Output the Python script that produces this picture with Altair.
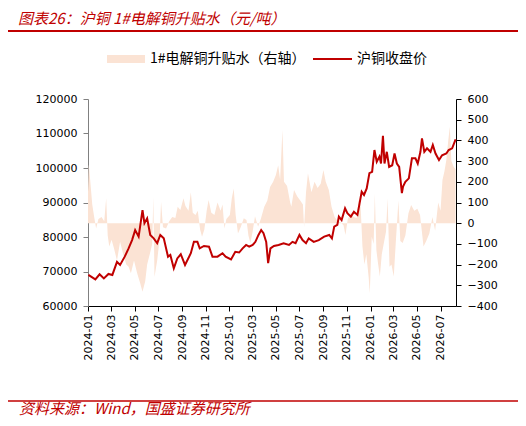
import altair as alt
import pandas as pd

# ---- Data ----
price_dates = [
    "2024-01-02", "2024-01-20", "2024-01-31", "2024-02-11", "2024-02-23", "2024-03-04",
    "2024-03-16", "2024-03-24", "2024-04-05", "2024-04-15", "2024-04-24", "2024-05-02",
    "2024-05-11", "2024-05-21", "2024-05-26", "2024-06-02", "2024-06-10", "2024-06-19",
    "2024-06-28", "2024-07-06", "2024-07-15", "2024-07-26", "2024-08-01", "2024-08-10",
    "2024-08-19", "2024-08-28", "2024-09-08", "2024-09-23", "2024-10-01", "2024-10-10",
    "2024-10-16", "2024-10-27", "2024-11-09", "2024-11-18", "2024-12-01", "2024-12-14",
    "2024-12-22", "2025-01-05", "2025-01-16", "2025-01-26", "2025-02-04", "2025-02-13",
    "2025-02-21", "2025-03-02", "2025-03-09", "2025-03-17", "2025-03-24", "2025-03-30",
    "2025-04-06", "2025-04-11", "2025-04-17", "2025-04-26", "2025-05-08", "2025-05-21",
    "2025-06-04", "2025-06-13", "2025-06-21", "2025-07-01", "2025-07-09", "2025-07-18",
    "2025-07-25", "2025-08-07", "2025-08-20", "2025-09-03", "2025-09-16", "2025-09-23",
    "2025-09-29", "2025-10-07", "2025-10-11", "2025-10-18", "2025-10-27", "2025-11-02",
    "2025-11-11", "2025-11-19", "2025-11-28", "2025-12-02", "2025-12-09", "2025-12-15",
    "2025-12-22", "2025-12-29", "2026-01-05", "2026-01-11", "2026-01-17", "2026-01-24",
    "2026-01-28", "2026-02-02", "2026-02-06", "2026-02-12", "2026-02-18", "2026-02-26",
    "2026-03-04", "2026-03-10", "2026-03-16", "2026-03-23", "2026-03-26", "2026-04-01",
    "2026-04-10", "2026-04-18", "2026-04-27", "2026-05-03", "2026-05-10", "2026-05-14",
    "2026-05-20", "2026-05-27", "2026-06-05", "2026-06-11", "2026-06-18", "2026-06-27",
    "2026-07-05", "2026-07-16", "2026-07-22", "2026-07-31", "2026-08-09",
]
price_values = [
    69000, 67700, 69200, 68000, 69300, 69000,
    72800, 71900, 74300, 76700, 79100, 82000,
    80100, 87800, 84000, 85400, 80600, 79600,
    78200, 80600, 79600, 74300, 74800, 70900,
    73800, 75000, 71900, 75300, 78600, 78600,
    76700, 77400, 77200, 74300, 74300, 75300,
    74300, 73500, 75700, 75500, 76700, 77700,
    77200, 77700, 78600, 80600, 82000, 81100,
    78600, 72400, 76700, 77400, 77700, 78200,
    77700, 78600, 78200, 80600, 79100, 78200,
    79600, 78600, 79100, 80100, 80600, 79600,
    83000, 83500, 85900, 84900, 88300, 86900,
    85900, 87300, 86400, 88800, 93100, 92200,
    94100, 98500, 98900, 105200, 101800, 103300,
    101300, 109300, 101300, 104700, 100300, 100800,
    104200, 101300, 100300, 92700, 94600, 96000,
    97000, 102800, 102800, 101300, 104700, 108600,
    104700, 105700, 104700, 106700, 104200, 102300,
    103700, 104200, 105200, 105700, 108300,
]

basis_dates = [
    "2024-01-01", "2024-01-03", "2024-01-07", "2024-01-12", "2024-01-17", "2024-01-22",
    "2024-01-28", "2024-02-05", "2024-02-12", "2024-02-17", "2024-02-21", "2024-02-25",
    "2024-03-02", "2024-03-08", "2024-03-16", "2024-03-24", "2024-04-01", "2024-04-09",
    "2024-04-15", "2024-04-21", "2024-04-29", "2024-05-07", "2024-05-15", "2024-05-21",
    "2024-05-28", "2024-06-02", "2024-06-10", "2024-06-15", "2024-06-18", "2024-06-21",
    "2024-06-28", "2024-07-04", "2024-07-08", "2024-07-13", "2024-07-21", "2024-07-29",
    "2024-08-06", "2024-08-14", "2024-08-20", "2024-08-27", "2024-09-04", "2024-09-09",
    "2024-09-17", "2024-09-23", "2024-09-28", "2024-10-05", "2024-10-11", "2024-10-17",
    "2024-10-22", "2024-10-28", "2024-11-03", "2024-11-08", "2024-11-15", "2024-11-23",
    "2024-12-01", "2024-12-09", "2024-12-14", "2024-12-19", "2024-12-24", "2025-01-02",
    "2025-01-07", "2025-01-12", "2025-01-17", "2025-01-23", "2025-01-30", "2025-02-07",
    "2025-02-14", "2025-02-19", "2025-02-24", "2025-03-02", "2025-03-08", "2025-03-16",
    "2025-03-23", "2025-04-01", "2025-04-09", "2025-04-16", "2025-04-24", "2025-05-01",
    "2025-05-07", "2025-05-12", "2025-05-18", "2025-05-22", "2025-05-30", "2025-06-07",
    "2025-06-10", "2025-06-17", "2025-06-25", "2025-07-03", "2025-07-10", "2025-07-13",
    "2025-07-18", "2025-07-23", "2025-08-01", "2025-08-09", "2025-08-17", "2025-08-25",
    "2025-09-01", "2025-09-07", "2025-09-15", "2025-09-22", "2025-09-30", "2025-10-08",
    "2025-10-15", "2025-10-23", "2025-10-28", "2025-11-03", "2025-11-11", "2025-11-18",
    "2025-11-26", "2025-12-01", "2025-12-06", "2025-12-11", "2025-12-16", "2025-12-21",
    "2025-12-27", "2025-12-30", "2026-01-04", "2026-01-09", "2026-01-12", "2026-01-16",
    "2026-01-20", "2026-01-25", "2026-01-30", "2026-02-05", "2026-02-10", "2026-02-14",
    "2026-02-19", "2026-02-24", "2026-03-02", "2026-03-07", "2026-03-14", "2026-03-19",
    "2026-03-25", "2026-04-01", "2026-04-09", "2026-04-16", "2026-04-24", "2026-05-02",
    "2026-05-09", "2026-05-18", "2026-05-25", "2026-06-02", "2026-06-10", "2026-06-17",
    "2026-06-25", "2026-07-01", "2026-07-06", "2026-07-11", "2026-07-16", "2026-07-21",
    "2026-07-25", "2026-07-29", "2026-08-04", "2026-08-09",
]
basis_values = [
    150, 285, 200, 90, 30, -25,
    20, 30, 10, 120, -60, -113,
    -80, -120, -180, -90, -150, -200,
    -210, -242, -180, -240, -290, -331,
    -280, -200, -140, -100, 128, -260,
    -180, -81, 104, -20, -25, 10,
    30, 25, 80, 64, 120, 83,
    60, 150, 50, 40, 60, -30,
    -65, -30, 60, 112, 50, 40,
    100, 60, 90, -25, 20, 40,
    120, 168, 40, -50, -20, 24,
    15, -60, -96, -40, 34, -17,
    20, 80, 110, 175, 200, 233,
    280, 210, 450, 200, 180, 100,
    80, 160, 130, 110, 90, -20,
    150, 241, 150, 200, 170, 190,
    257, 200, 160, 80, 30, 10,
    5, -10, -57, 20, 48, 30,
    25, 112, 90, -113, -200, -150,
    -260, -338, -65, -100, 144, -130,
    -190, -258, -150, -90, -40, 120,
    -210, -200, -258, -100, 110, -86,
    -96, -60, 48, 88, 60, 70,
    40, -113, -86, -50, 30, -36,
    100, 60, 209, 250, 305, 400,
    466, 300, 273, 260,
]

tick_labels = ["2024-01", "2024-03", "2024-05", "2024-07", "2024-09", "2024-11",
               "2025-01", "2025-03", "2025-05", "2025-07", "2025-09", "2025-11",
               "2026-01", "2026-03", "2026-05", "2026-07"]

title_text = "图表26：沪铜 1#电解铜升贴水（元/吨）"
source_text = "资料来源：Wind，国盛证券研究所"
legend_area = "1#电解铜升贴水（右轴）"
legend_line = "沪铜收盘价"

RED = "#C00000"
PEACH = "#FBE3D4"
AXIS_FONT = "DejaVu Sans"
CJK = "Noto Sans CJK SC"

price_df = pd.DataFrame({"date": price_dates, "price": price_values})
basis_df = pd.DataFrame({"date": basis_dates, "basis": basis_values})

tick_dates = [alt.DateTime(year=int(t[:4]), month=int(t[5:]), date=1, utc=True) for t in tick_labels]
xscale = alt.Scale(type="utc",
                   domain=[alt.DateTime(year=2024, month=1, date=1, utc=True),
                           alt.DateTime(year=2026, month=8, date=10, utc=True)])

xaxis = alt.Axis(values=tick_dates, labelExpr="utcFormat(datum.value, '%Y-%m')", labelAngle=270,
                 labelAlign="right", labelBaseline="middle", labelFont=AXIS_FONT,
                 labelFontSize=11, labelColor="#000000", labelPadding=3,
                 tickSize=5, tickColor="#000000", domainColor="#000000",
                 grid=False, title=None, labelOverlap=False)

area = alt.Chart(basis_df).mark_area(color=PEACH, opacity=1, interpolate="linear").encode(
    x=alt.X("date:T", scale=xscale, axis=xaxis),
    y=alt.Y("basis:Q",
            scale=alt.Scale(domain=[-400, 600], nice=False, zero=False),
            axis=alt.Axis(orient="right", values=list(range(-400, 601, 100)), title=None,
                          grid=False, labelFont=AXIS_FONT, labelFontSize=11,
                          labelColor="#000000", tickSize=5, tickColor="#000000",
                          domainColor="#000000", labelPadding=6)),
    y2=alt.datum(0),
)

line = alt.Chart(price_df).mark_line(color=RED, strokeWidth=2).encode(
    x=alt.X("date:T", scale=xscale, axis=xaxis),
    y=alt.Y("price:Q",
            scale=alt.Scale(domain=[60000, 120000], nice=False, zero=False),
            axis=alt.Axis(orient="left", values=list(range(60000, 120001, 10000)), title=None,
                          grid=False, labelFont=AXIS_FONT, labelFontSize=11,
                          labelColor="#000000", tickSize=5, tickColor="#808080",
                          domainColor="#808080", labelPadding=6, format="d")),
)

one = pd.DataFrame({"a": [0]})

title = alt.Chart(one).mark_text(text=title_text, font=CJK, fontSize=15, fontStyle="italic",
                                 color=RED, align="left", baseline="middle").encode(
    x=alt.value(-70), y=alt.value(-80))
top_rule = alt.Chart(one).mark_rule(color=RED, strokeWidth=2).encode(
    x=alt.value(-83), x2=alt.value(430), y=alt.value(-68))
bottom_rule = alt.Chart(one).mark_rule(color=RED, strokeWidth=1.5).encode(
    x=alt.value(-83), x2=alt.value(430), y=alt.value(302))
source = alt.Chart(one).mark_text(text=source_text, font=CJK, fontSize=15, fontStyle="italic",
                                  color=RED, align="left", baseline="middle").encode(
    x=alt.value(-69), y=alt.value(310))

leg_rect = alt.Chart(one).mark_rect(color=PEACH).encode(
    x=alt.value(19), x2=alt.value(57), y=alt.value(-44), y2=alt.value(-36))
leg_text1 = alt.Chart(one).mark_text(text=legend_area, font=CJK, fontSize=14, color="#000000",
                                     align="left", baseline="middle").encode(
    x=alt.value(62), y=alt.value(-40))
leg_line = alt.Chart(one).mark_rule(color=RED, strokeWidth=2).encode(
    x=alt.value(225), x2=alt.value(264), y=alt.value(-40))
leg_text2 = alt.Chart(one).mark_text(text=legend_line, font=CJK, fontSize=14, color="#000000",
                                     align="left", baseline="middle").encode(
    x=alt.value(269), y=alt.value(-40))

chart = alt.layer(area, line, title, top_rule, bottom_rule, source,
                  leg_rect, leg_text1, leg_line, leg_text2).resolve_scale(
    y="independent"
).properties(
    width=368, height=207,
    padding={"left": 80, "top": 91, "right": 62, "bottom": 112},
    autosize=alt.AutoSizeParams(type="none"),
    background="white",
).configure_view(stroke=None)

chart.save("out.html", embed_options={"renderer": "svg", "actions": False})
